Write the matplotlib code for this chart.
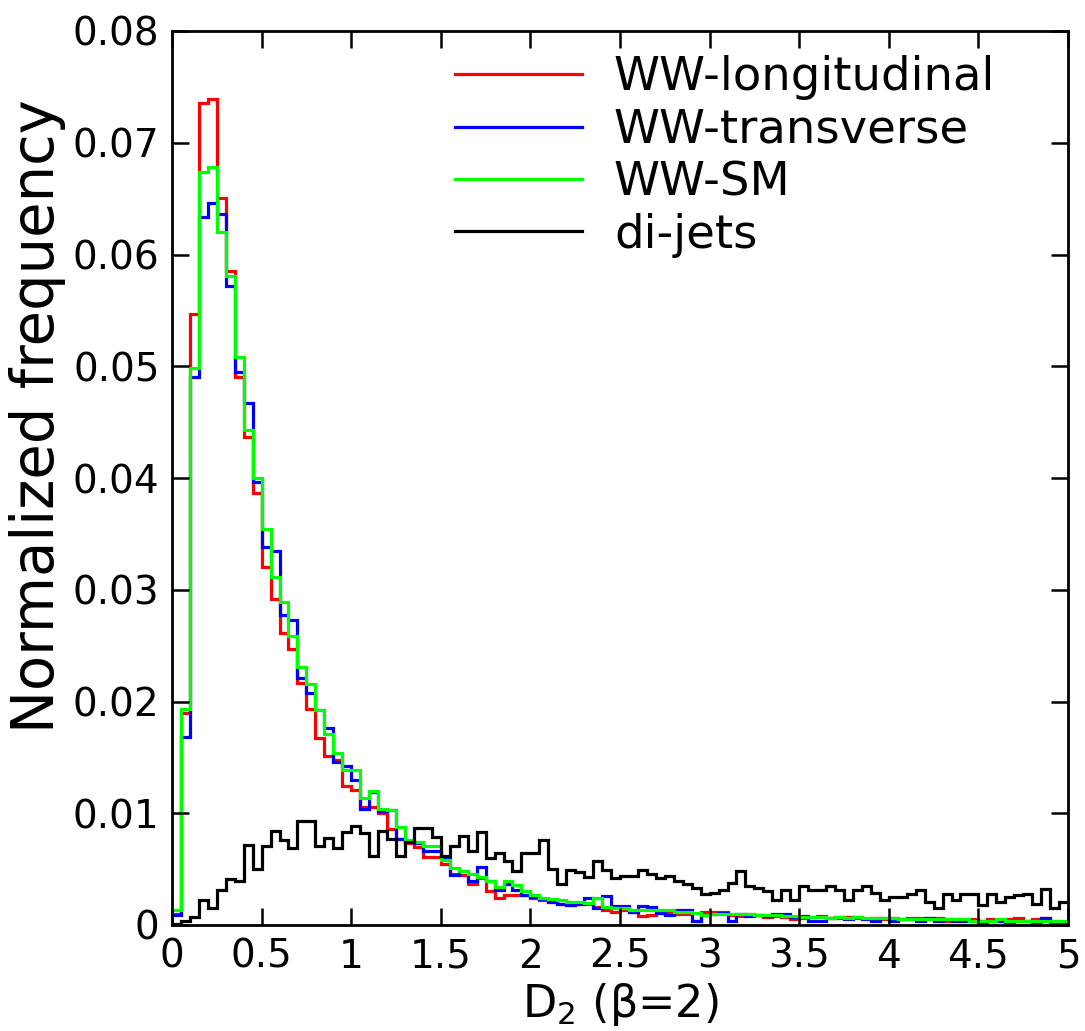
import numpy as np
import matplotlib
matplotlib.use("Agg")
import matplotlib.pyplot as plt

# ---- data (bin width 0.05 on 0..5) ----
bin_width = 0.05
n_bins = 100

ww_longitudinal = [
    0.0010, 0.0190, 0.0547, 0.0736, 0.0739, 0.0651, 0.0585, 0.0490, 0.0437, 0.0387,
    0.0320, 0.0292, 0.0261, 0.0247, 0.0217, 0.0193, 0.0167, 0.0151, 0.0148, 0.0124,
    0.0121, 0.0106, 0.0106, 0.0100, 0.0086, 0.0077, 0.0073, 0.0070, 0.0061, 0.0061,
    0.0055, 0.0046, 0.0045, 0.0037, 0.0042, 0.0030, 0.0024, 0.0027, 0.0027, 0.0027,
    0.0024, 0.0022, 0.0021, 0.0019, 0.0018, 0.0019, 0.0019, 0.0016, 0.0013, 0.0012,
    0.0013, 0.0012, 0.0008, 0.0009, 0.0011, 0.0011, 0.0010, 0.0010, 0.0004, 0.0012,
    0.0012, 0.0012, 0.0009, 0.0008, 0.0010, 0.0009, 0.0007, 0.0008, 0.0007, 0.0005,
    0.0006, 0.0007, 0.0008, 0.0006, 0.0006, 0.0007, 0.0006, 0.0005, 0.0006, 0.0005,
    0.0006, 0.0005, 0.0006, 0.0006, 0.0005, 0.0006, 0.0004, 0.0005, 0.0004, 0.0005,
    0.0004, 0.0005, 0.0004, 0.0005, 0.0006, 0.0004, 0.0005, 0.0006, 0.0004, 0.0002,
]

ww_transverse = [
    0.0009, 0.0168, 0.0490, 0.0634, 0.0646, 0.0636, 0.0572, 0.0495, 0.0467, 0.0396,
    0.0338, 0.0335, 0.0277, 0.0273, 0.0221, 0.0208, 0.0192, 0.0176, 0.0146, 0.0142,
    0.0130, 0.0104, 0.0119, 0.0102, 0.0103, 0.0077, 0.0075, 0.0073, 0.0066, 0.0066,
    0.0059, 0.0045, 0.0048, 0.0039, 0.0052, 0.0039, 0.0031, 0.0037, 0.0031, 0.0027,
    0.0025, 0.0023, 0.0021, 0.0019, 0.0018, 0.0019, 0.0024, 0.0015, 0.0026, 0.0017,
    0.0017, 0.0012, 0.0017, 0.0016, 0.0011, 0.0009, 0.0013, 0.0013, 0.0004, 0.0009,
    0.0010, 0.0011, 0.0004, 0.0010, 0.0008, 0.0009, 0.0008, 0.0010, 0.0010, 0.0007,
    0.0008, 0.0004, 0.0004, 0.0006, 0.0007, 0.0005, 0.0007, 0.0005, 0.0004, 0.0006,
    0.0004, 0.0005, 0.0005, 0.0004, 0.0006, 0.0004, 0.0005, 0.0004, 0.0004, 0.0004,
    0.0002, 0.0004, 0.0004, 0.0003, 0.0004, 0.0004, 0.0003, 0.0006, 0.0003, 0.0003,
]

ww_sm = [
    0.0013, 0.0193, 0.0498, 0.0674, 0.0678, 0.0620, 0.0581, 0.0508, 0.0443, 0.0400,
    0.0354, 0.0311, 0.0289, 0.0259, 0.0231, 0.0216, 0.0192, 0.0171, 0.0154, 0.0139,
    0.0139, 0.0114, 0.0120, 0.0104, 0.0103, 0.0088, 0.0076, 0.0074, 0.0071, 0.0071,
    0.0058, 0.0051, 0.0048, 0.0046, 0.0043, 0.0039, 0.0034, 0.0039, 0.0036, 0.0030,
    0.0027, 0.0024, 0.0023, 0.0022, 0.0021, 0.0021, 0.0020, 0.0024, 0.0016, 0.0015,
    0.0015, 0.0013, 0.0013, 0.0013, 0.0013, 0.0013, 0.0012, 0.0012, 0.0011, 0.0009,
    0.0010, 0.0010, 0.0010, 0.0010, 0.0010, 0.0009, 0.0009, 0.0009, 0.0008, 0.0008,
    0.0007, 0.0007, 0.0007, 0.0006, 0.0007, 0.0006, 0.0007, 0.0006, 0.0006, 0.0006,
    0.0006, 0.0005, 0.0005, 0.0005, 0.0005, 0.0005, 0.0005, 0.0005, 0.0005, 0.0004,
    0.0004, 0.0004, 0.0005, 0.0004, 0.0004, 0.0004, 0.0004, 0.0004, 0.0004, 0.0004,
]

di_jets = [
    0.0001, 0.0004, 0.0007, 0.0022, 0.0015, 0.0031, 0.0041, 0.0039, 0.0072, 0.0050,
    0.0071, 0.0084, 0.0076, 0.0069, 0.0093, 0.0093, 0.0071, 0.0078, 0.0069, 0.0083,
    0.0089, 0.0082, 0.0062, 0.0084, 0.0077, 0.0062, 0.0074, 0.0087, 0.0087, 0.0079,
    0.0062, 0.0071, 0.0080, 0.0066, 0.0083, 0.0060, 0.0064, 0.0057, 0.0048, 0.0064,
    0.0064, 0.0076, 0.0050, 0.0037, 0.0049, 0.0047, 0.0043, 0.0057, 0.0049, 0.0042,
    0.0044, 0.0044, 0.0049, 0.0046, 0.0042, 0.0044, 0.0039, 0.0037, 0.0033, 0.0028,
    0.0029, 0.0031, 0.0038, 0.0048, 0.0035, 0.0033, 0.0030, 0.0022, 0.0031, 0.0022,
    0.0035, 0.0031, 0.0031, 0.0035, 0.0031, 0.0022, 0.0031, 0.0035, 0.0029, 0.0022,
    0.0025, 0.0025, 0.0028, 0.0031, 0.0021, 0.0015, 0.0028, 0.0022, 0.0028, 0.0028,
    0.0018, 0.0028, 0.0021, 0.0025, 0.0027, 0.0028, 0.0019, 0.0032, 0.0015, 0.0021,
]

series_labels = ["WW-longitudinal", "WW-transverse", "WW-SM", "di-jets"]
series_colors = ["#ff0000", "#0000ff", "#00ff00", "#000000"]

x_ticks = [0, 0.5, 1, 1.5, 2, 2.5, 3, 3.5, 4, 4.5, 5]
x_ticklabels = ["0", "0.5", "1", "1.5", "2", "2.5", "3", "3.5", "4", "4.5", "5"]
y_ticks = [0, 0.01, 0.02, 0.03, 0.04, 0.05, 0.06, 0.07, 0.08]
y_ticklabels = ["0", "0.01", "0.02", "0.03", "0.04", "0.05", "0.06", "0.07", "0.08"]

# ---- plot ----
plt.rcParams["font.family"] = ["DejaVu Sans"]
plt.rcParams["mathtext.default"] = "regular"

fig = plt.figure(figsize=(10.85, 10.31), dpi=100)
ax = fig.add_axes([172 / 1085, 1 - 925 / 1031, (1068 - 172) / 1085, (925 - 31) / 1031])

edges = np.arange(n_bins + 1) * bin_width
for vals, lab, col in zip([ww_longitudinal, ww_transverse, ww_sm, di_jets],
                          series_labels, series_colors):
    ax.stairs(vals, edges, baseline=None, color=col, lw=2.3, label=lab)

ax.set_xlim(0, 5)
ax.set_ylim(0, 0.08)
ax.set_xticks(x_ticks)
ax.set_xticklabels(x_ticklabels)
ax.set_yticks(y_ticks)
ax.set_yticklabels(y_ticklabels)
ax.tick_params(direction="in", length=12, width=1.8, top=True, right=True,
               labelsize=28, pad=9)
for s in ax.spines.values():
    s.set_linewidth(2.0)

ax.set_xlabel("D$_2$ (β=2)", fontsize=32, labelpad=4)
ax.set_ylabel("Normalized frequency", fontsize=41.5)
ax.yaxis.set_label_coords(-0.118, 0.569)

leg = ax.legend(loc="upper right", frameon=False, fontsize=33.5,
                handlelength=2.73, handletextpad=0.69, labelspacing=0.16,
                borderaxespad=0.2, bbox_to_anchor=(0.95, 1.004))

fig.savefig("out.png", dpi=100)
